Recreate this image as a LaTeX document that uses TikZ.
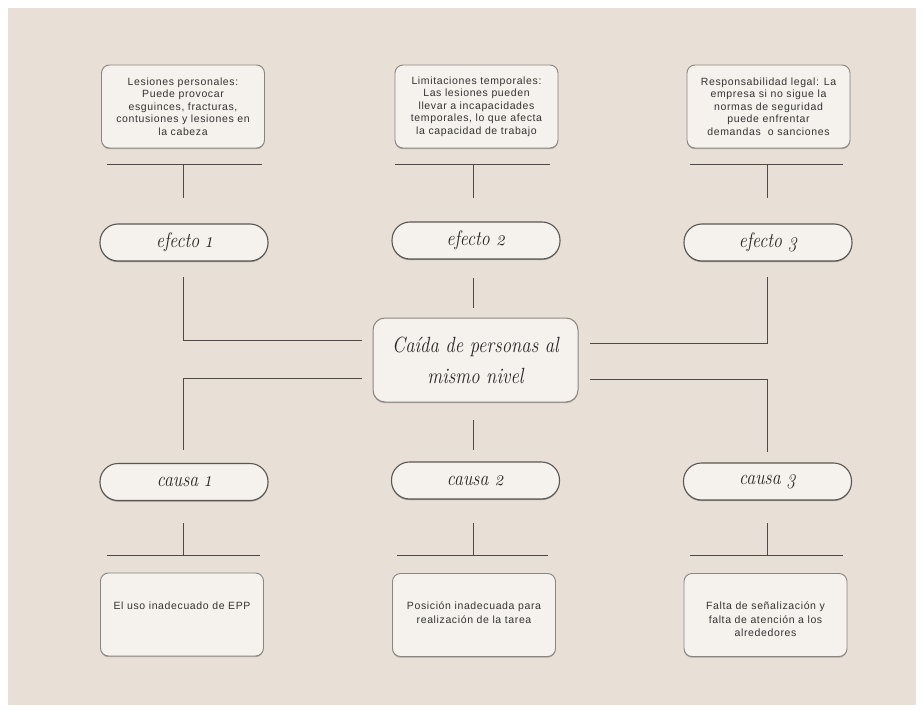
\documentclass[tikz,border=0pt]{standalone}
\usepackage{fontspec}
\setmainfont[LetterSpace=6]{Liberation Sans}
\newfontfamily\titlefont[FakeStretch=0.85,Numbers=OldStyle]{Latin Modern Roman}
\usetikzlibrary{shadows}
\definecolor{bgc}{HTML}{E8E0D7}
\definecolor{boxfill}{HTML}{F5F1ED}
\definecolor{boxline}{HTML}{8A8580}
\definecolor{pillline}{HTML}{5A5652}
\definecolor{connc}{HTML}{4D4A47}
\definecolor{textc}{HTML}{333333}
\tikzset{
  infobox/.style={draw=boxline, fill=boxfill, rounded corners=8pt, line width=0.9pt,
    minimum width=163pt, minimum height=83pt, align=center, inner sep=0pt,
    font=\fontsize{10.5}{12.5}\selectfont, text=textc,
    drop shadow={shadow xshift=0pt, shadow yshift=-1.2pt, opacity=0.25, fill=black}},
  pill/.style={draw=pillline, fill=boxfill, rounded corners=18pt, line width=1.1pt,
    minimum width=168pt, minimum height=37pt, inner sep=0pt, text=black!85,
    font=\titlefont\itshape\fontsize{21}{24}\selectfont,
    drop shadow={shadow xshift=0pt, shadow yshift=-1.2pt, opacity=0.3, fill=black}},
  centerbox/.style={draw=boxline, fill=boxfill, rounded corners=12pt, line width=1pt,
    minimum width=205pt, minimum height=84pt, inner sep=0pt, align=center, text=black!85,
    font=\titlefont\itshape\fontsize{22}{31}\selectfont,
    drop shadow={shadow xshift=0pt, shadow yshift=-1.2pt, opacity=0.25, fill=black}},
  btext/.style={align=center, inner sep=0pt, anchor=north, text=textc,
    font=\fontsize{10.5}{13.5}\selectfont},
  conn/.style={draw=connc, line width=1pt}
}
\begin{document}
\begin{tikzpicture}[x=1pt,y=-1pt]
\useasboundingbox (0,0) rectangle (923,711);
\fill[white] (0,0) rectangle (923,711);
\fill[bgc] (8,8) rectangle (916,705);

% top effect description boxes
\node[infobox] (top1) at (183,106.5) {Lesiones personales:\\Puede provocar\\esguinces, fracturas,\\contusiones y lesiones en\\la cabeza};
\node[infobox] (top2) at (476.5,106.5) {Limitaciones temporales:\\Las lesiones pueden\\llevar a incapacidades\\temporales, lo que afecta\\la capacidad de trabajo};
\node[infobox] (top3) at (768.5,106.5) {Responsabilidad legal: La\\empresa si no sigue la\\normas de seguridad\\puede enfrentar\\demandas\ \ o sanciones};

% effect pills
\node[pill] (ef1) at (184,242.5) {efecto 1};
\node[pill] (ef2) at (476,240.5) {efecto 2};
\node[pill] (ef3) at (768,242.5) {efecto 3};

% center
\node[centerbox] (mid) at (475.5,360) {Caída de personas al\\mismo nivel};

% cause pills
\node[pill] (ca1) at (184,482) {causa 1};
\node[pill] (ca2) at (475.5,480.5) {causa 2};
\node[pill] (ca3) at (767.5,481.5) {causa 3};

% bottom cause boxes
\node[infobox] (bot1) at (182,614.5) {};
\node[infobox] (bot2) at (474,615) {};
\node[infobox] (bot3) at (765.5,615) {};
\node[btext] (bt1) at (182,602) {El uso inadecuado de EPP};
\node[btext] (bt2) at (474,602) {Posición inadecuada para\\realización de la tarea};
\node[btext] (bt3) at (765.5,602) {Falta de señalización y\\falta de atención a los\\alrededores};

% connector coordinates
\coordinate (t1l) at (107,165); \coordinate (t1r) at (262,165);
\coordinate (t1m) at (183,165); \coordinate (t1e) at (183,198);
\coordinate (t2l) at (395,165); \coordinate (t2r) at (550,165);
\coordinate (t2m) at (473,165); \coordinate (t2e) at (473,198);
\coordinate (t3l) at (690,165); \coordinate (t3r) at (843,165);
\coordinate (t3m) at (767,165); \coordinate (t3e) at (767,198);

\coordinate (e1s) at (183,277); \coordinate (ml1) at (362,340);
\coordinate (e2s) at (473,278); \coordinate (e2e) at (473,308);
\coordinate (e3s) at (767,277); \coordinate (mr1) at (590,343);

\coordinate (ml2) at (362,378); \coordinate (c1e) at (183,450);
\coordinate (mr2) at (590,379); \coordinate (c3e) at (767,452);
\coordinate (c2s) at (473,420); \coordinate (c2e) at (473,450);

\coordinate (b1s) at (183,523); \coordinate (b1m) at (183,555);
\coordinate (b1l) at (107,555); \coordinate (b1r) at (260,555);
\coordinate (b2s) at (473,523); \coordinate (b2m) at (473,555);
\coordinate (b2l) at (397,555); \coordinate (b2r) at (548,555);
\coordinate (b3s) at (767,523); \coordinate (b3m) at (767,555);
\coordinate (b3l) at (690,555); \coordinate (b3r) at (843,555);

% connectors
\draw[conn] (t1l) -- (t1r); \draw[conn] (t1m) -- (t1e);
\draw[conn] (t2l) -- (t2r); \draw[conn] (t2m) -- (t2e);
\draw[conn] (t3l) -- (t3r); \draw[conn] (t3m) -- (t3e);

\draw[conn] (e1s) |- (ml1);
\draw[conn] (e2s) -- (e2e);
\draw[conn] (e3s) |- (mr1);

\draw[conn] (ml2) -| (c1e);
\draw[conn] (mr2) -| (c3e);
\draw[conn] (c2s) -- (c2e);

\draw[conn] (b1s) -- (b1m); \draw[conn] (b1l) -- (b1r);
\draw[conn] (b2s) -- (b2m); \draw[conn] (b2l) -- (b2r);
\draw[conn] (b3s) -- (b3m); \draw[conn] (b3l) -- (b3r);
\end{tikzpicture}
\end{document}
